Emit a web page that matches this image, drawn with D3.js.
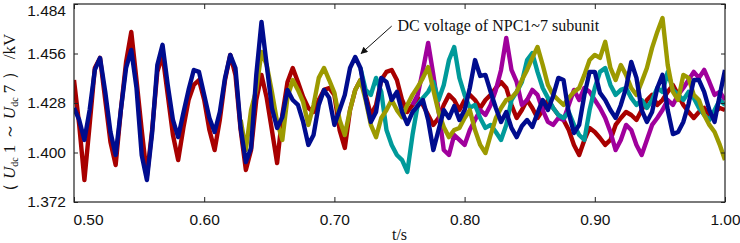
<!DOCTYPE html>
<html>
<head>
<meta charset="utf-8">
<script src="https://cdn.jsdelivr.net/npm/d3@7"></script>
<style>
  body { margin: 0; background: #fff; }
  .tick text { font-family: "Liberation Sans", Arial, sans-serif; font-size: 15.5px; fill: #111; }
  .tick line { stroke: #222; }
</style>
</head>
<body>
<div id="chart-area"></div>
<script>
// sampling step of the traces (s)
var dt = 0.004;

var xTicks = [0.5, 0.6, 0.7, 0.8, 0.9, 1.0];
var yTicks = [1.372, 1.400, 1.428, 1.456, 1.484];

// DC voltages (kV), one value every dt from each start time
var redStart = 0.5;
var red = [
  1.4410,1.4156,1.3844,1.4156,1.4478,1.4535,1.4297,1.4060,1.3929,1.4240,
  1.4512,1.4682,1.4410,1.4127,1.3867,1.4127,1.4456,1.4552,1.4326,1.4099,
  1.3957,1.4139,1.4297,1.4382,1.4410,1.4297,1.4127,1.4014,1.4184,1.4410,
  1.4552,1.4439,1.4127,1.3901,1.4014,1.4297,1.4439,1.4309,1.4127,1.3940,
  1.4212,1.4399,1.4478,1.4399,1.4314,1.4252,1.4229,1.4297,1.4354,1.4365,
  1.4326,1.4127,1.4026,1.4240,1.4354,1.4410,1.4326,1.4212,1.4269,1.4410,
  1.4456,1.4467,1.4410,1.4297,1.4229,1.4269,1.4309,1.4269,1.4212,1.4156,
  1.4195,1.4269,1.4326,1.4297,1.4240,1.4297,1.4326,1.4297,1.4252,1.4297,
  1.4326,1.4365,1.4399,1.4365,1.4269,1.4195,1.4240,1.4297,1.4252,1.4195,
  1.4240,1.4297,1.4252,1.4212,1.4184,1.4127,1.4043,1.3986,1.4071,1.4139,
  1.4116,1.4082,1.4043,1.4071,1.4156,1.4195,1.4229,1.4212,1.4184,1.4240,
  1.4297,1.4326,1.4269,1.4297,1.4343,1.4382,1.4326,1.4269,1.4229,1.4195,
  1.4229,1.4252,1.4212,1.4229,1.4252,1.4240
];

var magentaStart = 0.76;
var magenta = [
  1.4269,1.4326,1.4467,1.4620,1.4439,1.4240,1.4014,1.3986,1.4099,1.4071,
  1.4043,1.4127,1.4184,1.4240,1.4212,1.4269,1.4354,1.4467,1.4648,1.4467,
  1.4399,1.4269,1.4297,1.4354,1.4326,1.4240,1.4173,1.4156,1.4195,1.4184,
  1.4269,1.4354,1.4297,1.4365,1.4343,1.4297,1.4252,1.4195,1.4116,1.4014,
  1.4071,1.4156,1.4127,1.4043,1.3986,1.4071,1.4156,1.4195,1.4240,1.4297,
  1.4269,1.4326,1.4365,1.4410,1.4456,1.4422,1.4467,1.4399,1.4326,1.4343,
  1.4297
];

var tealStart = 0.72;
var teal = [
  1.4478,1.4354,1.4326,1.4422,1.4343,1.4127,1.4043,1.3986,1.3957,1.3890,
  1.4099,1.4269,1.4309,1.4343,1.4399,1.4297,1.4382,1.4523,1.4597,1.4422,
  1.4326,1.4252,1.4269,1.4195,1.4139,1.4156,1.4116,1.4071,1.4156,1.4297,
  1.4343,1.4399,1.4523,1.4563,1.4456,1.4365,1.4309,1.4252,1.4212,1.4195,
  1.4229,1.4156,1.4099,1.4071,1.4240,1.4365,1.4456,1.4478,1.4382,1.4326,
  1.4354,1.4365,1.4309,1.4269,1.4297,1.4252,1.4297,1.4365,1.4343,1.4456,
  1.4354,1.4326,1.4297,1.4343,1.4309,1.4252,1.4212,1.4184,1.4240,1.4297,
  1.4269
];

var oliveStart = 0.628;
var olive = [
  1.4184,1.4014,1.4240,1.4354,1.4569,1.4495,1.4343,1.4173,1.4071,1.4314,
  1.4410,1.4354,1.4286,1.4156,1.4269,1.4422,1.4478,1.4410,1.4337,1.4184,
  1.4099,1.4240,1.4354,1.4410,1.4297,1.4156,1.4087,1.4195,1.4240,1.4297,
  1.4240,1.4200,1.4269,1.4326,1.4370,1.4422,1.4483,1.4354,1.4229,1.4144,
  1.4087,1.4127,1.4139,1.4195,1.4240,1.4127,1.4043,1.3997,1.4099,1.4195,
  1.4252,1.4297,1.4309,1.4343,1.4410,1.4467,1.4535,1.4597,1.4495,1.4382,
  1.4326,1.4297,1.4269,1.4309,1.4343,1.4365,1.4439,1.4523,1.4552,1.4535,
  1.4626,1.4478,1.4410,1.4495,1.4439,1.4365,1.4326,1.4399,1.4478,1.4592,
  1.4682,1.4761,1.4495,1.4343,1.4297,1.4439,1.4422,1.4326,1.4297,1.4212,
  1.4156,1.4116,1.4043,1.3957
];

var blueStart = 0.5;
var blue = [
  1.4252,1.4184,1.4071,1.4240,1.4467,1.4535,1.4343,1.4116,1.3986,1.4240,
  1.4478,1.4580,1.4365,1.3986,1.3844,1.4110,1.4495,1.4609,1.4382,1.4184,
  1.4087,1.4223,1.4354,1.4467,1.4456,1.4326,1.4195,1.4116,1.4229,1.4422,
  1.4552,1.4478,1.4139,1.3946,1.4026,1.4439,1.4739,1.4495,1.4252,1.4139,
  1.4200,1.4354,1.4297,1.4269,1.4173,1.4043,1.4099,1.4269,1.4354,1.4309,
  1.4156,1.4240,1.4326,1.4478,1.4540,1.4478,1.4309,1.4173,1.4229,1.4422,
  1.4399,1.4297,1.4343,1.4229,1.4161,1.4229,1.4263,1.4297,1.4184,1.4014,
  1.4127,1.4240,1.4195,1.4263,1.4184,1.4240,1.4365,1.4523,1.4433,1.4439,
  1.4343,1.4252,1.4173,1.4229,1.4139,1.4087,1.4150,1.4184,1.4144,1.4223,
  1.4297,1.4240,1.4320,1.4422,1.4410,1.4223,1.4110,1.4156,1.4326,1.4456,
  1.4456,1.4337,1.4297,1.4240,1.4195,1.4269,1.4365,1.4512,1.4422,1.4240,
  1.4173,1.4229,1.4365,1.4439,1.4240,1.4104,1.4116,1.4173,1.4274,1.4410,
  1.4410,1.4343,1.4240,1.4173,1.4326,1.4467
];

// annotation (data units)
var noteText = "DC voltage of NPC1~7 subunit";
var noteAt = { t: 0.7485, v: 1.4685 };
var arrowFrom = { t: 0.7440, v: 1.4715 };
var arrowTo = { t: 0.7205, v: 1.4560 };

var margin = { left: 74, right: 15, top: 4, bottom: 41 };
var width = 740 - margin.left - margin.right;
var height = 243 - margin.top - margin.bottom;

var svg = d3.select("#chart-area")
  .append("svg")
  .attr("width", 740)
  .attr("height", 243);

var g = svg.append("g")
  .attr("transform", "translate(" + margin.left + "," + margin.top + ")");

// Scales
var x = d3.scaleLinear().domain([0.5, 1.0]).range([0, width]);
var y = d3.scaleLinear().domain([1.372, 1.484]).range([height, 0]);

g.append("clipPath").attr("id", "plot-clip")
  .append("rect").attr("width", width).attr("height", height);

// Traces
var traces = [
  { values: red, start: redStart, color: "#a80000" },
  { values: magenta, start: magentaStart, color: "#a0009c" },
  { values: teal, start: tealStart, color: "#009a9a" },
  { values: olive, start: oliveStart, color: "#9c9a00" },
  { values: blue, start: blueStart, color: "#000c8e" }
];

var line = d3.line()
  .x(function(d) { return x(d.t); })
  .y(function(d) { return y(d.v); });

g.append("g")
  .attr("clip-path", "url(#plot-clip)")
  .selectAll("path")
  .data(traces)
  .enter()
  .append("path")
  .attr("fill", "none")
  .attr("stroke", function(d) { return d.color; })
  .attr("stroke-width", 4.4)
  .attr("stroke-linejoin", "round")
  .attr("d", function(d) {
    return line(d.values.map(function(v, i) {
      return { t: d.start + i * dt, v: v };
    }));
  });

// Axes (ticks point inward)
var xAxisGroup = g.append("g")
  .attr("transform", "translate(0," + height + ")")
  .call(d3.axisBottom(x).tickValues(xTicks).tickSizeInner(-5).tickSizeOuter(0)
    .tickPadding(12).tickFormat(d3.format(".2f")));

// first label sits a bit to the right, as in the original
xAxisGroup.selectAll(".tick text")
  .attr("dx", function(d) { return d === 0.5 ? 14 : 0; });

var yAxisGroup = g.append("g")
  .call(d3.axisLeft(y).tickValues(yTicks).tickSizeInner(-4).tickSizeOuter(0)
    .tickPadding(8).tickFormat(d3.format(".3f")));

// top label pushed down so it is not cut by the page edge
yAxisGroup.selectAll(".tick text")
  .attr("dy", function(d) { return d === 1.484 ? "0.72em" : "0.32em"; });

g.append("g")
  .call(d3.axisTop(x).tickValues(xTicks).tickSizeInner(-5).tickSizeOuter(0).tickFormat(""));

g.append("g")
  .attr("transform", "translate(" + width + ",0)")
  .call(d3.axisRight(y).tickValues(yTicks).tickSizeInner(-4).tickSizeOuter(0).tickFormat(""));

g.selectAll(".domain").remove();

// Frame
g.append("rect")
  .attr("width", width)
  .attr("height", height)
  .attr("fill", "none")
  .attr("stroke", "#222")
  .attr("stroke-width", 1.2);

// X label
g.append("text")
  .attr("x", width / 2)
  .attr("y", height + 38)
  .attr("text-anchor", "middle")
  .attr("font-family", "'Liberation Serif', 'Times New Roman', serif")
  .attr("font-size", "16px")
  .attr("fill", "#111")
  .text("t/s");

// Y label
var yLabel = svg.append("text")
  .attr("transform", "translate(15,117) rotate(-90)")
  .attr("text-anchor", "middle")
  .attr("font-family", "'Liberation Serif', 'Times New Roman', serif")
  .attr("font-size", "17px")
  .attr("fill", "#111");

yLabel.append("tspan").text("（ ");
yLabel.append("tspan").attr("font-style", "italic").text("U");
yLabel.append("tspan").attr("font-size", "10px").attr("dy", 3).text("dc");
yLabel.append("tspan").attr("dy", -3).text(" 1 ～ ");
yLabel.append("tspan").attr("font-style", "italic").text("U");
yLabel.append("tspan").attr("font-size", "10px").attr("dy", 3).text("dc");
yLabel.append("tspan").attr("dy", -3).text(" 7 ） /kV");

// Annotation
svg.append("defs").append("marker")
  .attr("id", "arrow-head")
  .attr("viewBox", "0 0 10 10")
  .attr("refX", 9)
  .attr("refY", 5)
  .attr("markerWidth", 9)
  .attr("markerHeight", 7)
  .attr("markerUnits", "userSpaceOnUse")
  .attr("orient", "auto")
  .append("path")
  .attr("d", "M0,0 L10,5 L0,10 Z")
  .attr("fill", "#111");

g.append("line")
  .attr("x1", x(arrowFrom.t))
  .attr("y1", y(arrowFrom.v))
  .attr("x2", x(arrowTo.t))
  .attr("y2", y(arrowTo.v))
  .attr("stroke", "#111")
  .attr("stroke-width", 1)
  .attr("marker-end", "url(#arrow-head)");

g.append("text")
  .attr("x", x(noteAt.t))
  .attr("y", y(noteAt.v))
  .attr("font-family", "'Liberation Serif', 'Times New Roman', serif")
  .attr("font-size", "16px")
  .attr("fill", "#111")
  .text(noteText);
</script>
</body>
</html>
